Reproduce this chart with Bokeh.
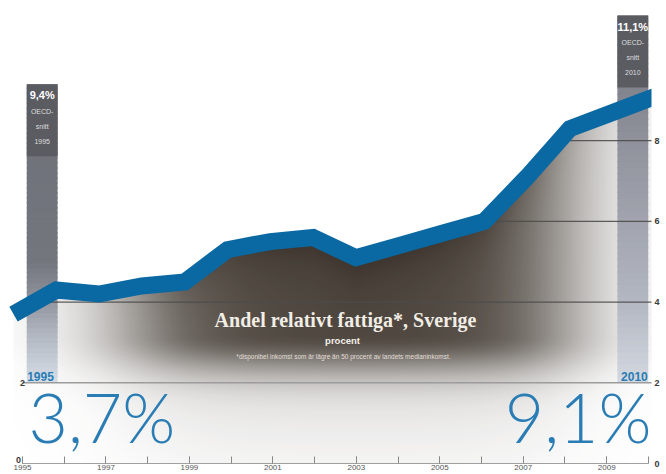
import numpy as np
from bokeh.plotting import figure
from bokeh.models import Range1d, LinearAxis, FixedTicker
from bokeh.core.properties import value
from bokeh.embed import file_html
from bokeh.resources import INLINE

# ---------------- data ----------------
years = list(range(1995, 2011))
andel = [3.7, 4.3, 4.2, 4.4, 4.5, 5.3, 5.5, 5.6, 5.1, 5.4, 5.7, 6.0, 7.1, 8.3, 8.7, 9.1]
oecd_years = [1995, 2010]
oecd_values = [9.4, 11.1]
oecd_pct = ["9,4%", "11,1%"]
oecd_caption = ["OECD-", "snitt"]
end_years = ["1995", "2010"]
end_values = ["3,7%", "9,1%"]
x_major = [1995, 1997, 1999, 2001, 2003, 2005, 2007, 2009]
x_minor = list(range(1995, 2011))
y_ticks = [0, 2, 4, 6, 8]
left_ticks = [0, 2]
grid_levels = [4, 6, 8]
base_level = 2
title = "Andel relativt fattiga*, Sverige"
subtitle = "procent"
footnote = "*disponibel inkomst som är lägre än 50 procent av landets medianinkomst."

# ---------------- layout ----------------
W, H = 666, 474
FW, FH = 651, 463          # expected frame size (px)
LPX, L0 = 42.8, 13.0       # line scale: px per year, px of first year
APX, A0 = 41.73, 22.0      # axis scale
PPU = 40.35                # px per unit on y
x_start = years[0] - L0 / LPX
x_end = x_start + FW / LPX
ax_start = years[0] - A0 / APX
ax_end = ax_start + FW / APX
y_end = FH / PPU

def fx(px):   # page px -> data x (line range)
    return x_start + px / LPX

def fy(py):   # page px -> data y
    return (FH - py) / PPU

BLUE = "#0a68a2"
BLUE_TXT = "#2a7db4"
SANS = value("Liberation Sans")

p = figure(width=W, height=H, x_range=Range1d(x_start, x_end),
           y_range=Range1d(0, y_end), output_backend="svg",
           toolbar_location=None, min_border_left=0, min_border_top=0,
           min_border_right=W - FW, min_border_bottom=H - FH,
           x_axis_location=None, y_axis_location=None)
p.outline_line_color = None
p.background_fill_color = "white"
p.border_fill_color = "white"
p.xgrid.visible = False
p.ygrid.visible = False
p.extra_x_ranges = {"axis": Range1d(ax_start, ax_end)}

# ---------------- shadow ----------------
nx, ny = 642, 463
xs = years[0] + (np.arange(nx) + 0.5) * (years[-1] - years[0]) / nx
ys = (np.arange(ny) + 0.5) * y_end / ny
L = np.interp(xs, years, andel)
Lg = L[None, :]
Yg = ys[:, None]
hx = 1 / (1 + np.exp((1997.8 - xs) / 0.9)) * 1 / (1 + np.exp((xs - 2007.9) / 0.8))
d = np.clip(3.2 - ys, 0, None)
vy = 0.8 * np.exp(-(d / 0.95) ** 2) + 0.2 * np.exp(-(d / 3.0) ** 2)
depth = Lg - Yg
dark = 0.88 + 0.12 * np.exp(-np.clip(depth, 0, None) / 0.8)
alpha = 0.93 * hx[None, :] * vy[:, None] * dark * (depth > 0)
img = np.zeros((ny, nx), dtype=np.uint32)
view = img.view(dtype=np.uint8).reshape((ny, nx, 4))
view[:, :, 0] = 40
view[:, :, 1] = 31
view[:, :, 2] = 22
view[:, :, 3] = np.clip(alpha * 255, 0, 255).astype(np.uint8)
p.image_rgba(image=[img], x=years[0], y=0, dw=years[-1] - years[0], dh=y_end)

# ---------------- OECD bars ----------------
bar_w = 0.72
bar_centers = [oecd_years[0] + 0.67, oecd_years[1] - 0.53]
bar_stops = [
    [(2.0, "#d6dde7"), (3.0, "#b8bec8"), (4.2, "#8b8e97"), (5.0, "#74767e"), (12.0, "#6b6d74")],
    [(2.0, "#d3d8e1"), (4.0, "#b3b7c1"), (6.0, "#a1a4ae"), (8.0, "#8f929b"), (10.0, "#7b7d86"), (12.0, "#6c6e76")],
]
BOX_H = 72

def hex2rgb(h):
    return [int(h[i:i + 2], 16) for i in (1, 3, 5)]

def draw_bar(xc, top, stops, n=60):
    edges = np.linspace(base_level, top, n + 1)
    mids = (edges[:-1] + edges[1:]) / 2
    sv = [s[0] for s in stops]
    cols = np.array([hex2rgb(s[1]) for s in stops], dtype=float)
    rgb = np.stack([np.interp(mids, sv, cols[:, k]) for k in range(3)], axis=1)
    colors = ["#%02x%02x%02x" % tuple(int(round(c)) for c in row) for row in rgb]
    tops = np.minimum(edges[1:] + 0.04, top)
    p.quad(left=xc - bar_w / 2, right=xc + bar_w / 2, bottom=edges[:-1], top=tops,
           fill_color=colors, line_color=None)
    p.quad(left=xc - bar_w / 2, right=xc + bar_w / 2, bottom=top - BOX_H / PPU, top=top,
           fill_color="#5b5c62", line_color=None)

for xc, top, st in zip(bar_centers, oecd_values, bar_stops):
    draw_bar(xc, top, st)

p.text(x=bar_centers, y=oecd_values, text=oecd_pct, y_offset=11, text_font=SANS,
       text_font_style="bold", text_font_size="11px", text_color="white",
       text_align="center", text_baseline="middle")
for k, cap in enumerate(oecd_caption + [None]):
    txt = [cap, cap] if cap else end_years
    p.text(x=bar_centers, y=oecd_values, text=txt, y_offset=27 + 15 * k, text_font=SANS,
           text_font_size="7px", text_color="#dedede", text_align="center",
           text_baseline="middle")

# ---------------- grid lines (only below the line) ----------------
fine_x = np.linspace(years[0], years[-1], 6001)
fine_y = np.interp(fine_x, years, andel)
gx0, gx1, gy = [], [], []
for lev in grid_levels:
    m = fine_y > lev
    idx = np.flatnonzero(np.diff(np.r_[0, m.astype(int), 0]))
    for a, b in zip(idx[::2], idx[1::2]):
        x0 = fine_x[a]
        x1 = fine_x[b - 1] if b < len(fine_x) else x_end + 1
        gx0.append(x0); gx1.append(x1); gy.append(lev)
p.segment(x0=gx0, y0=gy, x1=gx1, y1=gy, line_color="#4d4d4d", line_width=1.2, line_alpha=0.9)
p.segment(x0=[years[0]], y0=[base_level], x1=[ax_end + 1], y1=[base_level],
          x_range_name="axis", line_color="#9c9c9c", line_width=1.5)

# ---------------- main line ----------------
p.line(years, andel, line_width=17, line_color=BLUE, line_join="miter", line_cap="butt")

# ---------------- texts ----------------
p.text(x=[bar_centers[0] - bar_w / 2 + 0.01, bar_centers[1] + bar_w / 2 - 0.01],
       y=[base_level, base_level], text=end_years, y_offset=-2,
       text_align=["left", "right"], text_baseline="bottom", text_font=SANS,
       text_font_style="bold", text_font_size="12px", text_color=BLUE_TXT)
p.text(x=[fx(28), fx(651)], y=[fy(416), fy(416)], text=end_values,
       text_align=["left", "right"], text_baseline="alphabetic",
       text_font=value("Lato Light, Roboto Light, Open Sans Light, sans-serif"),
       text_font_size="68px", text_color=BLUE_TXT)
p.text(x=[fx(345)], y=[fy(319)], text=[title], text_align="center",
       text_baseline="alphabetic", text_font=value("Liberation Serif"),
       text_font_style="bold", text_font_size="20px", text_color="#f2eee6")
p.text(x=[fx(342)], y=[fy(340)], text=[subtitle], text_align="center",
       text_baseline="alphabetic", text_font=SANS, text_font_style="bold",
       text_font_size="9.5px", text_color="#f4f0ea")
p.text(x=[fx(343)], y=[fy(356)], text=[footnote], text_align="center",
       text_baseline="alphabetic", text_font=SANS, text_font_size="6.5px",
       text_color="#e2ddd5")
p.text(x=[x_start, x_start], y=left_ticks, text=[str(t) for t in left_ticks],
       x_offset=[18, 22], y_offset=[-4, 0], text_align="center", text_baseline="middle",
       text_font=SANS, text_font_style="bold", text_font_size="9px", text_color="#3a3a3a")

# ---------------- axes ----------------
xaxis = LinearAxis(x_range_name="axis", ticker=FixedTicker(ticks=x_major, minor_ticks=x_minor),
                   bounds=(years[0], years[-1]))
xaxis.axis_line_color = "#a0a0a0"
xaxis.major_tick_line_color = "#8a8a8a"
xaxis.minor_tick_line_color = "#8a8a8a"
xaxis.major_tick_in = 7
xaxis.major_tick_out = 0
xaxis.minor_tick_in = 7
xaxis.minor_tick_out = 0
xaxis.major_label_standoff = 1
xaxis.major_label_text_font = "Liberation Sans"
xaxis.major_label_text_font_size = "8px"
xaxis.major_label_text_color = "#555555"
p.add_layout(xaxis, "below")

yaxis = LinearAxis(ticker=FixedTicker(ticks=y_ticks, minor_ticks=[]))
yaxis.axis_line_color = None
yaxis.major_tick_line_color = None
yaxis.minor_tick_line_color = None
yaxis.major_tick_out = 0
yaxis.major_tick_in = 0
yaxis.major_label_standoff = 3
yaxis.major_label_text_font = "Liberation Sans"
yaxis.major_label_text_font_style = "bold"
yaxis.major_label_text_font_size = "9px"
yaxis.major_label_text_color = "#3a3a3a"
p.add_layout(yaxis, "right")

open("out.html", "w").write(file_html(p, INLINE))
